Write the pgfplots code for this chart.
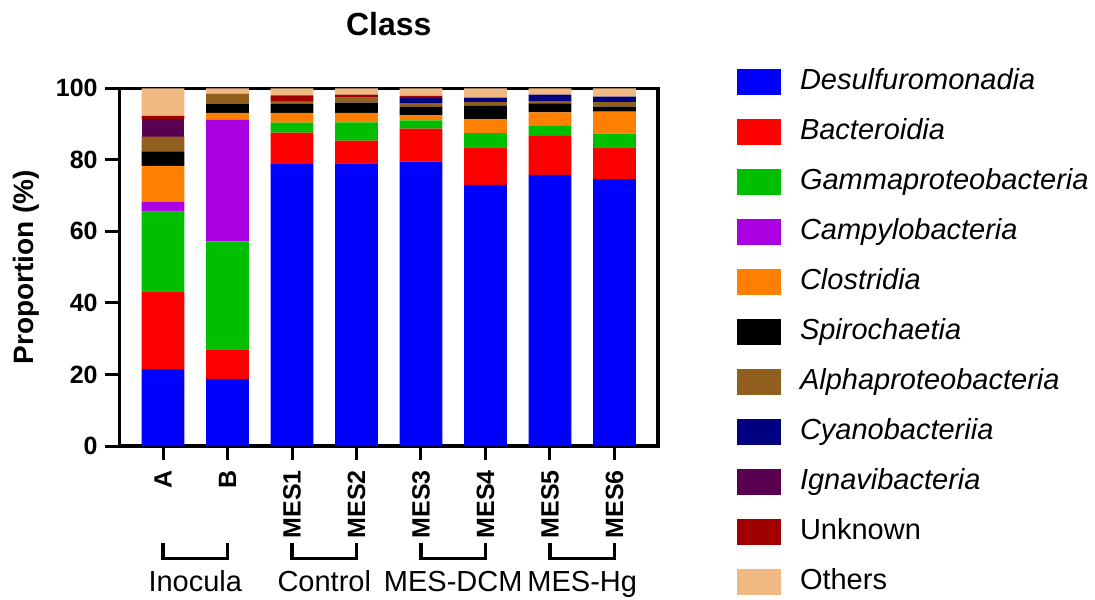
\documentclass[border=0pt]{standalone}
\usepackage{pgfplots}
\pgfplotsset{compat=1.18}
\usepackage{pgfplotstable}
\usepackage{fontspec}
\setmainfont{Liberation Sans}

\definecolor{cDes}{RGB}{0,0,255}
\definecolor{cBac}{RGB}{255,0,0}
\definecolor{cGam}{RGB}{0,190,0}
\definecolor{cCam}{RGB}{170,0,225}
\definecolor{cClo}{RGB}{255,128,0}
\definecolor{cSpi}{RGB}{0,0,0}
\definecolor{cAlp}{RGB}{145,95,30}
\definecolor{cCya}{RGB}{0,0,128}
\definecolor{cIgn}{RGB}{90,0,80}
\definecolor{cUnk}{RGB}{160,0,0}
\definecolor{cOth}{RGB}{240,185,130}

% relative abundance (%) per sample
\pgfplotstableread{
x Des  Bac  Gam  Cam  Clo  Spi Alp Cya Ign Unk Oth
0 21.5 21.7 22.3 2.8  10.0 4.1 4.1 0.0 4.9 0.9 7.7
1 18.8 8.2  30.2 34.0 1.9  2.6 2.8 0.0 0.0 0.0 1.5
2 78.8 8.8  2.8  0.0  2.7  2.6 0.7 0.0 0.0 1.6 2.0
3 79.0 6.4  5.1  0.0  2.6  2.9 1.4 0.0 0.0 0.8 1.8
4 79.5 9.2  2.3  0.0  1.4  2.4 0.9 1.6 0.0 0.6 2.1
5 73.0 10.5 4.0  0.0  3.8  3.8 1.0 1.3 0.0 0.0 2.6
6 75.8 10.9 2.9  0.0  3.7  2.5 0.6 1.8 0.0 0.0 1.8
7 74.6 8.9  3.8  0.0  6.2  1.4 1.2 1.6 0.0 0.0 2.3
}\datatable

\pgfplotsset{
  sq/.style={fill=#1, draw=none,
    legend image code/.code={\fill[fill=#1] (0pt,-6.5pt) rectangle (22pt,6.5pt);}},
}
\tikzset{grp/.style={line width=1.6pt}}

\begin{document}
\begin{tikzpicture}
\begin{axis}[
    at={(0,0)}, anchor=south west,
    scale only axis,
    width=269.25pt, height=178.85pt,
    ybar stacked, bar width=0.66,
    xmin=-0.675, xmax=7.675,
    ymin=0, ymax=100,
    xtick={0,...,7},
    xticklabels={A,B,MES1,MES2,MES3,MES4,MES5,MES6},
    ytick={0,20,...,100},
    xtick pos=bottom, ytick pos=left,
    tick align=outside,
    major tick length=7pt,
    tick style={line width=1.5pt, black},
    axis line style={line width=1.6pt},
    /pgf/number format/assume math mode=true,
    yticklabel style={font=\bfseries\fontsize{12.5}{12.5}\selectfont, inner sep=0pt},
    yticklabel shift=3.75pt,
    xticklabel style={font=\bfseries\fontsize{12.5}{12.5}\selectfont, rotate=90, anchor=east, inner sep=0pt},
    xticklabel shift=5pt,
    ylabel={Proportion (\%)},
    every axis y label/.style={at={(axis description cs:-0.1588,0.5)}, rotate=90, anchor=base,
      font=\bfseries\fontsize{14}{14}\selectfont},
    title={Class},
    title style={at={(0.5,1)}, anchor=base, yshift=20.5pt, font=\bfseries\fontsize{16}{16}\selectfont},
    legend cell align=left,
    legend style={draw=none, fill=none, inner sep=0pt, outer sep=0pt,
      at={(1,1)}, anchor=north west, xshift=39.5pt, yshift=9.65pt,
      row sep=12pt,
      nodes={inner sep=0pt, text height=10pt, text depth=3pt, font=\fontsize{14.5}{14.5}\selectfont},
      /tikz/every odd column/.append style={column sep=9.5pt}},
    clip=false,
]
\addplot[sq=cDes] table[x=x,y=Des] {\datatable};
\addlegendentry{\textit{Desulfuromonadia}}
\addplot[sq=cBac] table[x=x,y=Bac] {\datatable};
\addlegendentry{\textit{Bacteroidia}}
\addplot[sq=cGam] table[x=x,y=Gam] {\datatable};
\addlegendentry{\textit{Gammaproteobacteria}}
\addplot[sq=cCam] table[x=x,y=Cam] {\datatable};
\addlegendentry{\textit{Campylobacteria}}
\addplot[sq=cClo] table[x=x,y=Clo] {\datatable};
\addlegendentry{\textit{Clostridia}}
\addplot[sq=cSpi] table[x=x,y=Spi] {\datatable};
\addlegendentry{\textit{Spirochaetia}}
\addplot[sq=cAlp] table[x=x,y=Alp] {\datatable};
\addlegendentry{\textit{Alphaproteobacteria}}
\addplot[sq=cCya] table[x=x,y=Cya] {\datatable};
\addlegendentry{\textit{Cyanobacteriia}}
\addplot[sq=cIgn] table[x=x,y=Ign] {\datatable};
\addlegendentry{\textit{Ignavibacteria}}
\addplot[sq=cUnk] table[x=x,y=Unk] {\datatable};
\addlegendentry{Unknown}
\addplot[sq=cOth] table[x=x,y=Oth] {\datatable};
\addlegendentry{Others}

% group brackets under the sample names
\draw[grp] ([yshift=-48.65pt]axis cs:0,0) -- ([yshift=-56.15pt]axis cs:0,0) -- ([yshift=-56.15pt]axis cs:1,0) -- ([yshift=-48.65pt]axis cs:1,0);
\draw[grp] ([yshift=-48.65pt]axis cs:2,0) -- ([yshift=-56.15pt]axis cs:2,0) -- ([yshift=-56.15pt]axis cs:3,0) -- ([yshift=-48.65pt]axis cs:3,0);
\draw[grp] ([yshift=-48.65pt]axis cs:4,0) -- ([yshift=-56.15pt]axis cs:4,0) -- ([yshift=-56.15pt]axis cs:5,0) -- ([yshift=-48.65pt]axis cs:5,0);
\draw[grp] ([yshift=-48.65pt]axis cs:6,0) -- ([yshift=-56.15pt]axis cs:6,0) -- ([yshift=-56.15pt]axis cs:7,0) -- ([yshift=-48.65pt]axis cs:7,0);
\node[anchor=base, font=\fontsize{14.5}{14.5}\selectfont] at ([yshift=-72.5pt]axis cs:0.5,0) {Inocula};
\node[anchor=base, font=\fontsize{14.5}{14.5}\selectfont] at ([yshift=-72.5pt]axis cs:2.5,0) {Control};
\node[anchor=base, font=\fontsize{14.5}{14.5}\selectfont] at ([yshift=-72.5pt]axis cs:4.5,0) {MES-DCM};
\node[anchor=base, font=\fontsize{14.5}{14.5}\selectfont] at ([yshift=-72.5pt]axis cs:6.5,0) {MES-Hg};
\end{axis}
\pgfresetboundingbox
\useasboundingbox (-59.75pt,-76.5pt) rectangle (487.75pt,223pt);
\end{tikzpicture}
\end{document}
